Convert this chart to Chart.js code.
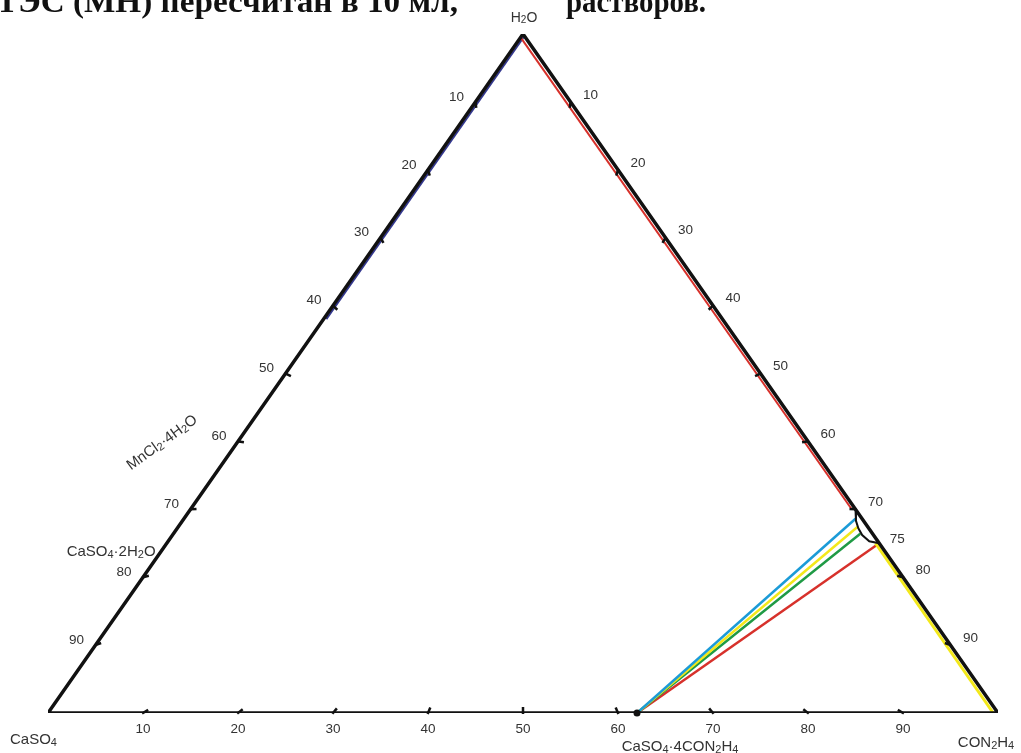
<!DOCTYPE html>
<html>
<head>
<meta charset="utf-8">
<script src="https://cdn.jsdelivr.net/npm/chart.js@4/dist/chart.umd.min.js"></script>
<style>
  html, body { margin: 0; padding: 0; background: #fff; overflow: hidden; }
  canvas { display: block; }
</style>
</head>
<body>
<canvas id="chart" width="1021" height="753"></canvas>
<script>
// ternary points: [CON2H4 %, H2O %]  (CaSO4 is the remainder)
const triangle = [[0, 0], [0, 100], [100, 0], [0, 0]];
const tickValues = [10, 20, 30, 40, 50, 60, 70, 80, 90];

const blueBranch = [[0.3, 99.6], [0.3, 58]];
const redBranch = [[0, 99.5], [69.6, 30]];
const curve7075 = [[70, 30], [70.9, 28.3], [71.7, 27.2], [72.6, 26.2], [73.8, 25.3], [75, 25]];
const yellowBranch = [[74.6, 25], [99.5, 0]];

const compound = [62, 0]; // CaSO4·4CON2H4
const tieEnds = {
  blue: [70.7, 28.6],
  yellow: [71.5, 27.4],
  green: [72.3, 26.4],
  red: [75, 25]
};

// ternary -> cartesian (x along the base, y = water)
const toXY = p => ({ x: p[0] + p[1] / 2, y: p[1] });

function line(data, color, width, order) {
  return {
    data: data.map(toXY),
    showLine: true,
    borderColor: color,
    borderWidth: width,
    pointRadius: 0,
    fill: false,
    tension: 0,
    order: order
  };
}

// draws a formula, digits right after a letter are subscripts
function drawFormula(ctx, text, x, y, size, align, angle) {
  const parts = [];
  let prev = '';
  for (const ch of text) {
    const sub = /[0-9]/.test(ch) && /[A-Za-z]/.test(prev);
    parts.push({ ch, sub });
    prev = ch;
  }
  const fontN = size + "px 'Liberation Sans', Arial, sans-serif";
  const fontS = Math.round(size * 0.72) + "px 'Liberation Sans', Arial, sans-serif";
  let total = 0;
  parts.forEach(p => { ctx.font = p.sub ? fontS : fontN; p.w = ctx.measureText(p.ch).width; total += p.w; });
  ctx.save();
  ctx.translate(x, y);
  if (angle) ctx.rotate(angle * Math.PI / 180);
  let cx = align === 'center' ? -total / 2 : align === 'right' ? -total : 0;
  ctx.textBaseline = 'middle';
  ctx.textAlign = 'left';
  parts.forEach(p => {
    ctx.font = p.sub ? fontS : fontN;
    ctx.fillText(p.ch, cx, p.sub ? size * 0.18 : 0);
    cx += p.w;
  });
  ctx.restore();
}

function fitText(ctx, text, x, y, width) {
  const w = ctx.measureText(text).width;
  ctx.save();
  ctx.translate(x, y);
  ctx.scale(width / w, 1);
  ctx.fillText(text, 0, 0);
  ctx.restore();
}

const decorations = {
  id: 'decorations',
  afterDatasetsDraw(chart) {
    const ctx = chart.ctx;
    const xs = chart.scales.x, ys = chart.scales.y;
    const px = p => { const q = toXY(p); return [xs.getPixelForValue(q.x), ys.getPixelForValue(q.y)]; };
    const centre = px([33.3, 33.3]);

    function tick(p) {
      const a = px(p);
      let dx = centre[0] - a[0], dy = centre[1] - a[1];
      const d = Math.hypot(dx, dy);
      ctx.beginPath();
      ctx.moveTo(a[0] - dx / d * 1, a[1] - dy / d * 1);
      ctx.lineTo(a[0] + dx / d * 6, a[1] + dy / d * 6);
      ctx.strokeStyle = '#111';
      ctx.lineWidth = 2.5;
      ctx.stroke();
      return a;
    }

    ctx.save();
    ctx.fillStyle = '#333';
    ctx.font = "13.5px 'Liberation Sans', Arial, sans-serif";
    ctx.textAlign = 'center';
    ctx.textBaseline = 'middle';
    tickValues.forEach(t => {
      const b = tick([t, 0]);
      ctx.fillText(String(t), b[0], b[1] + 16);
      const l = tick([0, 100 - t]);
      ctx.fillText(String(t), l[0] - 19, l[1] - 5);
      const r = tick([t, 100 - t]);
      ctx.fillText(String(t), r[0] + 20, r[1] - 7);
    });
    const p75 = px([75, 25]);
    ctx.fillText('75', p75[0] + 18, p75[1] - 4);

    // compound point
    const c = px(compound);
    ctx.beginPath();
    ctx.arc(c[0], c[1], 3.5, 0, Math.PI * 2);
    ctx.fillStyle = '#111';
    ctx.fill();

    ctx.fillStyle = '#333';
    const top = px([0, 100]);
    drawFormula(ctx, 'H2O', top[0] + 1, top[1] - 16, 14, 'center');
    const bl = px([0, 0]);
    drawFormula(ctx, 'CaSO4', bl[0] - 38, bl[1] + 27, 15, 'left');
    const br = px([100, 0]);
    drawFormula(ctx, 'CON2H4', br[0] - 12, br[1] + 30, 15, 'center');
    drawFormula(ctx, 'CaSO4·4CON2H4', c[0] + 43, c[1] + 34, 15, 'center');
    const g = px([0, 23.7]);
    drawFormula(ctx, 'CaSO4·2H2O', g[0] - 5, g[1], 15, 'right');
    const m = px([0, 39.8]);
    drawFormula(ctx, 'MnCl2·4H2O', m[0] - 75, m[1], 15, 'center', -36);

    // cut-off text line above the figure
    ctx.fillStyle = '#111';
    ctx.font = "bold 32px 'Liberation Serif', 'DejaVu Serif', serif";
    ctx.textAlign = 'left';
    ctx.textBaseline = 'alphabetic';
    fitText(ctx, 'ТЭС (МН) пересчитан в 10 мл,', -4, 12, 462);
    fitText(ctx, 'растворов.', 566, 12, 140);
    ctx.restore();
  }
};

new Chart(document.getElementById('chart'), {
  type: 'scatter',
  data: {
    datasets: [
      line(triangle, '#111', 3.5, 1),
      line(curve7075, '#111', 2, 2),
      line(redBranch, '#d7312b', 2, 3),
      line(blueBranch, '#34388f', 2, 3),
      line(yellowBranch, '#f3e81a', 3, 3),
      line([compound, tieEnds.blue], '#1b9bd7', 2.5, 4),
      line([compound, tieEnds.yellow], '#f3e81a', 2.5, 4),
      line([compound, tieEnds.green], '#1f9a45', 2.5, 4),
      line([compound, tieEnds.red], '#d7312b', 2.5, 4)
    ]
  },
  options: {
    responsive: false,
    animation: false,
    events: [],
    layout: { padding: { left: 48, right: 23, top: 34, bottom: 40 } },
    plugins: { legend: { display: false }, tooltip: { enabled: false } },
    scales: {
      x: { type: 'linear', min: 0, max: 100, display: false },
      y: { type: 'linear', min: 0, max: 100, display: false }
    }
  },
  plugins: [decorations]
});
</script>
</body>
</html>
